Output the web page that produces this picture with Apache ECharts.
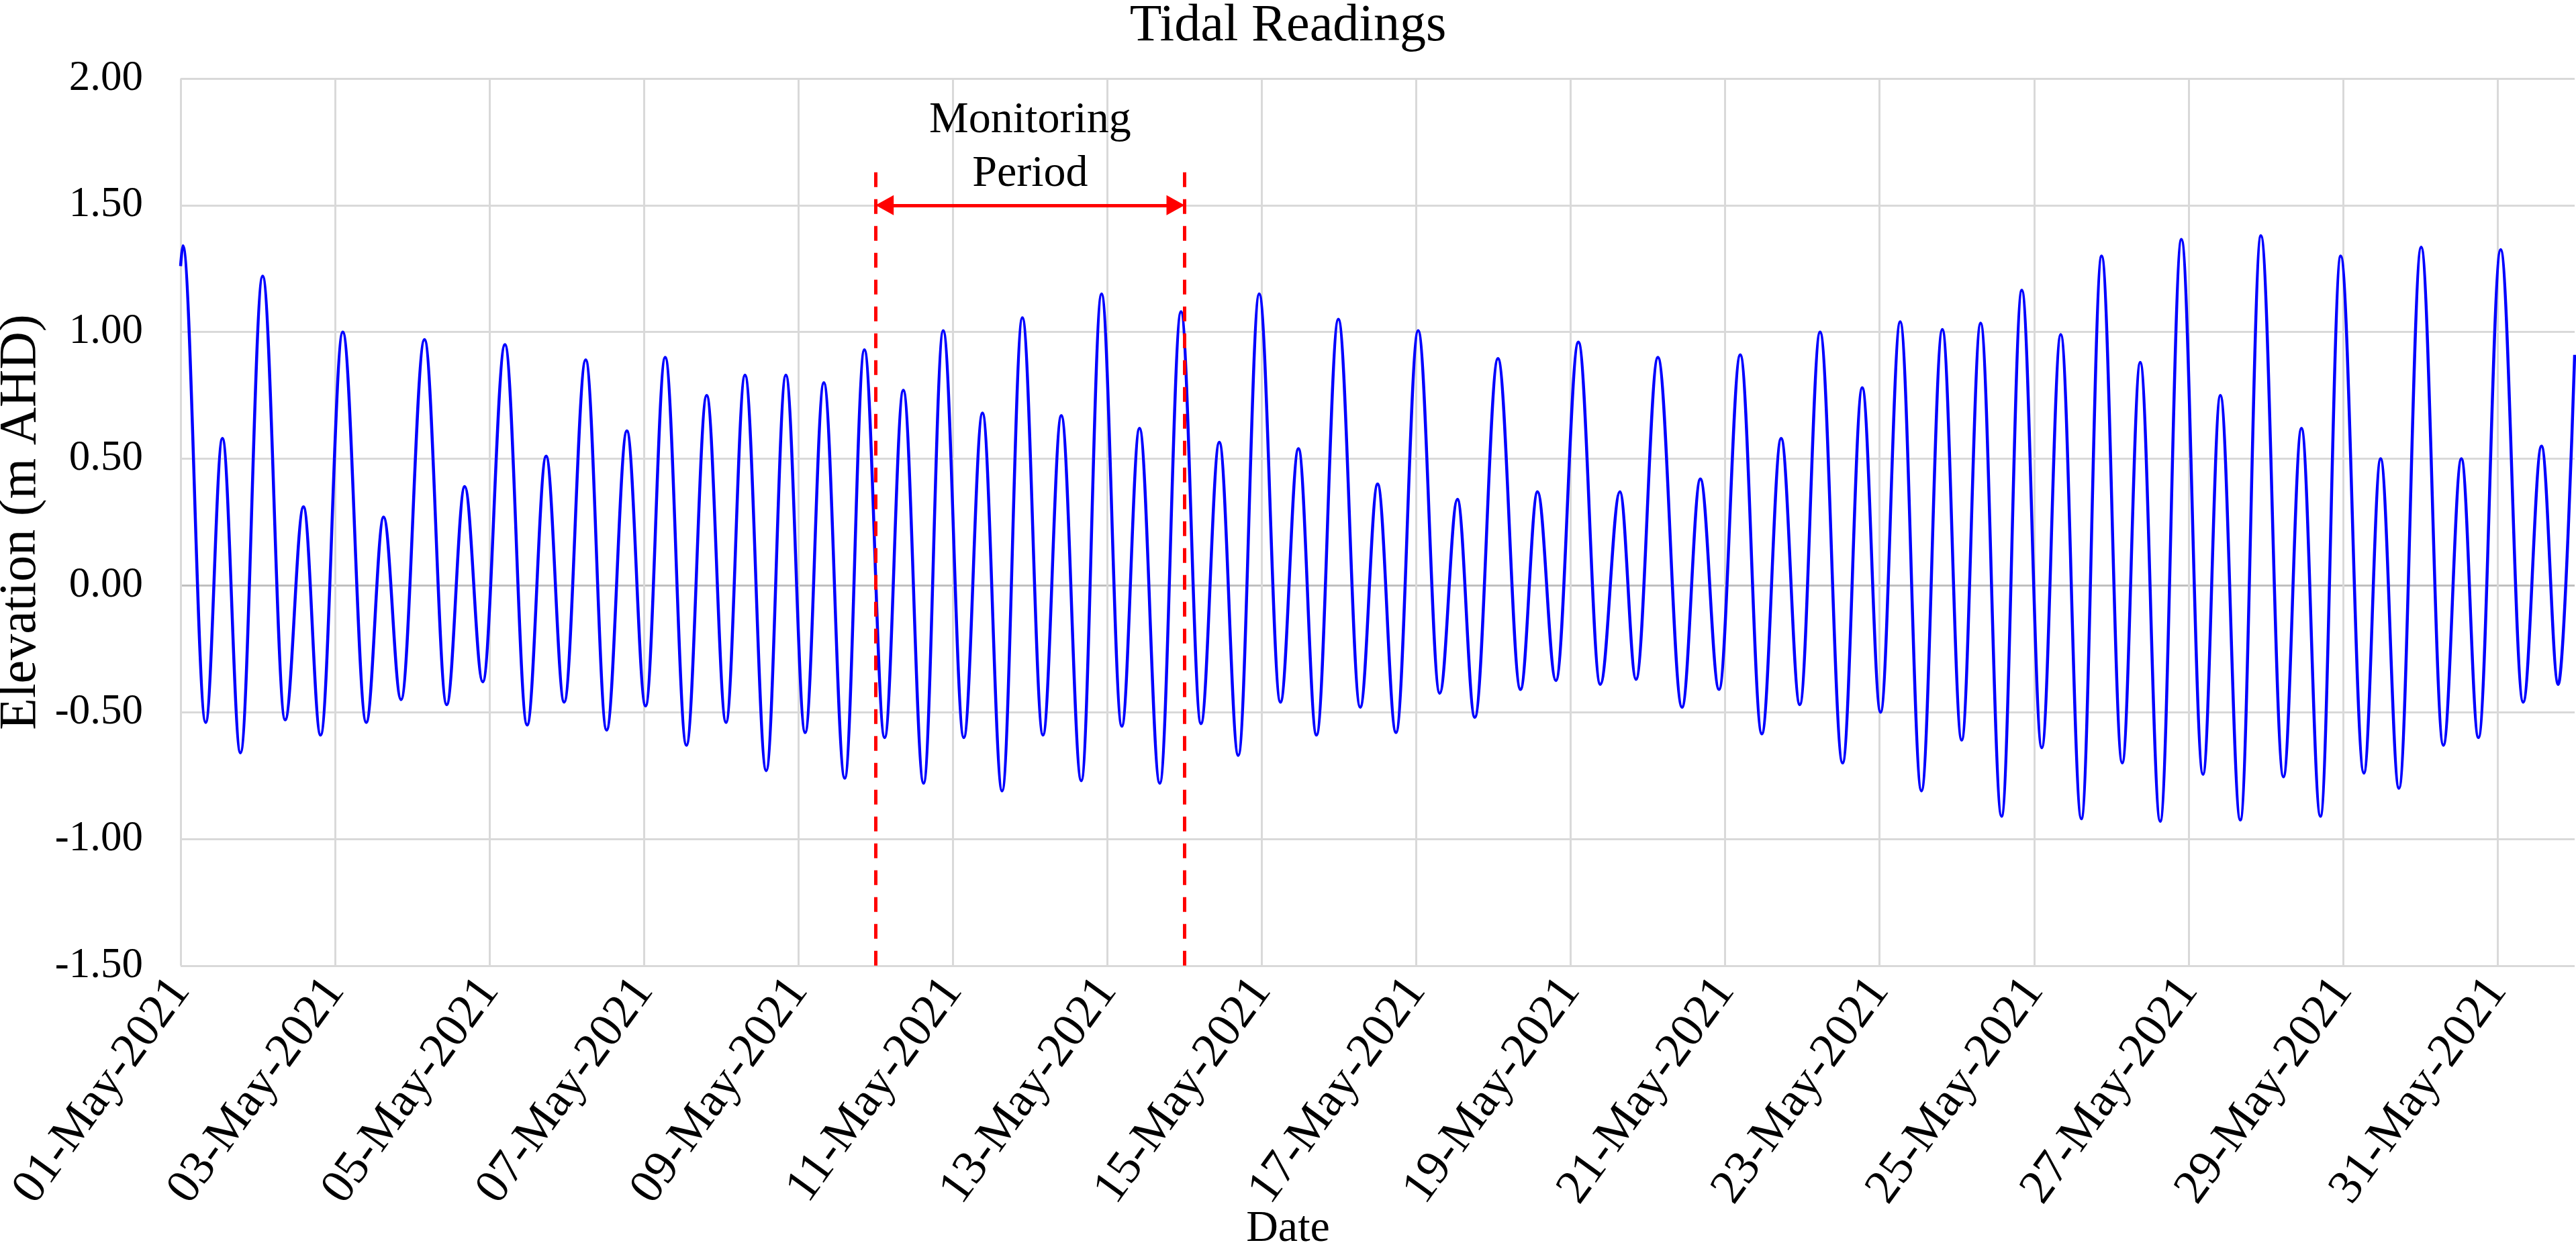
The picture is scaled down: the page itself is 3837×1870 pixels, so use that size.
<!DOCTYPE html>
<html>
<head>
    <meta charset="utf-8">
    <script src="https://cdn.jsdelivr.net/npm/echarts@6.0.0/dist/echarts.min.js"></script>
</head>
<body style="margin: 0; background: #fff">
<div id="container" style="width: 3837px; height: 1870px"></div>
<script type="text/javascript">
    // high / low water times, hours after 01-May-2021 00:00
    var hours = [
        0.0, 0.7, 7.8, 13.0, 18.6, 25.5, 32.5, 38.2, 43.5, 50.4,
        57.7, 63.1, 68.5, 75.8, 82.7, 88.3, 93.9, 100.8, 107.7, 113.6,
        119.2, 125.9, 132.4, 138.7, 144.5, 150.6, 157.2, 163.5, 169.5, 175.4,
        182.0, 188.1, 194.1, 199.9, 206.4, 212.5, 218.8, 224.6, 230.9, 237.0,
        243.4, 249.2, 255.3, 261.6, 268.0, 273.7, 279.9, 286.2, 292.5, 298.0,
        304.3, 310.9, 317.1, 322.8, 328.7, 335.2, 341.8, 347.4, 353.0, 359.8,
        366.6, 372.0, 377.7, 384.6, 391.3, 396.8, 402.2, 409.4, 416.4, 421.7,
        427.4, 434.4, 441.2, 447.3, 452.3, 459.1, 466.6, 472.3, 478.1, 484.7,
        491.4, 497.4, 503.2, 509.5, 516.5, 522.6, 528.3, 534.4, 541.0, 547.5,
        553.5, 559.4, 565.9, 572.2, 578.4, 584.3, 590.7, 597.0, 603.4, 609.0,
        615.2, 621.8, 628.5, 633.9, 640.1, 646.5, 653.5, 659.1, 665.0, 671.3,
        678.5, 683.7, 689.4, 696.3, 703.2, 708.8, 714.1, 721.0, 728.0, 733.7,
        738.9, 744.0
    ];
    // water level (m AHD) at those times
    var levels = [
        1.26, 1.34, -0.54, 0.58, -0.66, 1.22, -0.53, 0.31, -0.59, 1.00,
        -0.54, 0.27, -0.45, 0.97, -0.47, 0.39, -0.38, 0.95, -0.55, 0.51,
        -0.46, 0.89, -0.57, 0.61, -0.475, 0.90, -0.63, 0.75, -0.54, 0.83,
        -0.73, 0.83, -0.58, 0.80, -0.76, 0.93, -0.60, 0.77, -0.78, 1.005,
        -0.60, 0.68, -0.81, 1.056, -0.59, 0.67, -0.77, 1.15, -0.555, 0.62,
        -0.78, 1.08, -0.545, 0.565, -0.67, 1.15, -0.46, 0.54, -0.59, 1.05,
        -0.48, 0.40, -0.58, 1.005, -0.425, 0.34, -0.52, 0.895, -0.41, 0.37,
        -0.375, 0.96, -0.39, 0.37, -0.37, 0.90, -0.48, 0.42, -0.41, 0.91,
        -0.585, 0.58, -0.47, 1.00, -0.70, 0.78, -0.50, 1.04, -0.81, 1.01,
        -0.61, 1.035, -0.91, 1.165, -0.64, 0.99, -0.92, 1.30, -0.70, 0.88,
        -0.93, 1.365, -0.745, 0.75, -0.925, 1.38, -0.755, 0.62, -0.91, 1.30,
        -0.74, 0.50, -0.80, 1.335, -0.63, 0.50, -0.60, 1.325, -0.46, 0.55,
        -0.39, 0.91
    ];
    var dateLabels = [
        '01-May-2021', '03-May-2021', '05-May-2021', '07-May-2021',
        '09-May-2021', '11-May-2021', '13-May-2021', '15-May-2021',
        '17-May-2021', '19-May-2021', '21-May-2021', '23-May-2021',
        '25-May-2021', '27-May-2021', '29-May-2021', '31-May-2021'
    ];
    var elevTicks = [-1.5, -1.0, -0.5, 0.0, 0.5, 1.0, 1.5, 2.0];
    // monitoring period 10-May 00:00 to 14-May 00:00 (hours)
    var monitorStart = 216;
    var monitorEnd = 312;

    var font = 'Liberation Serif';
    var tide = [];
    for (var i = 0; i < hours.length; i++) {
        tide.push([hours[i], levels[i]]);
    }
    // zero line a bit darker, like the category axis line in Excel
    var gridColors = elevTicks.map(function (v) {
        return v === 0 ? '#bfbfbf' : '#d9d9d9';
    });

    var myChart = echarts.init(document.getElementById('container'));
    var option = {
        animation: false,
        backgroundColor: '#ffffff',
        title: [
            {
                text: 'Tidal Readings',
                left: 'center',
                top: -4,
                textStyle: {fontFamily: font, fontSize: 78, fontWeight: 'normal', color: '#000'}
            },
            {
                text: 'Date',
                left: 'center',
                top: 1794,
                textStyle: {fontFamily: font, fontSize: 66, fontWeight: 'normal', color: '#000'}
            }
        ],
        grid: {left: 269, right: 2, top: 117, bottom: 431, outerBoundsMode: 'none'},
        xAxis: {
            type: 'value',
            min: 0,
            max: 744,
            interval: 48,
            axisLine: {show: false},
            axisTick: {show: false},
            splitLine: {show: true, showMaxLine: false, lineStyle: {color: '#d9d9d9', width: 3}},
            axisLabel: {
                rotate: 54,
                margin: 26,
                showMaxLabel: false,
                fontFamily: font,
                fontSize: 72,
                color: '#000',
                formatter: function (v) {
                    return dateLabels[Math.round(v / 48)] || '';
                }
            }
        },
        yAxis: {
            type: 'value',
            min: -1.5,
            max: 2,
            interval: 0.5,
            name: 'Elevation (m AHD)',
            nameLocation: 'middle',
            nameGap: 176,
            nameTextStyle: {fontFamily: font, fontSize: 78, color: '#000'},
            axisLine: {show: false},
            axisTick: {show: false},
            splitLine: {lineStyle: {color: gridColors, width: 3}},
            axisLabel: {
                margin: 56,
                fontFamily: font,
                fontSize: 63,
                color: '#000',
                formatter: function (v) {
                    return v.toFixed(2);
                }
            }
        },
        series: [
            {
                name: 'Tide',
                type: 'line',
                data: tide,
                showSymbol: false,
                smooth: 0.36,
                smoothMonotone: 'x',
                lineStyle: {color: '#0000ff', width: 4.5},
                markLine: {
                    silent: true,
                    symbol: ['none', 'none'],
                    label: {show: false},
                    data: [
                        [
                            {coord: [monitorStart, 1.63], lineStyle: {color: '#ff0000', width: 5, type: [22, 18]}},
                            {coord: [monitorStart, -1.5]}
                        ],
                        [
                            {coord: [monitorEnd, 1.63], lineStyle: {color: '#ff0000', width: 5, type: [22, 18]}},
                            {coord: [monitorEnd, -1.5]}
                        ],
                        [
                            {
                                coord: [monitorStart + 2.8, 1.5],
                                symbol: 'triangle',
                                symbolSize: [30, 27],
                                lineStyle: {color: '#ff0000', width: 5, type: 'solid'},
                                label: {
                                    show: true,
                                    position: 'middle',
                                    formatter: 'Monitoring\nPeriod',
                                    fontFamily: font,
                                    fontSize: 66,
                                    lineHeight: 80,
                                    color: '#000',
                                    distance: 6
                                }
                            },
                            {coord: [monitorEnd - 2.8, 1.5], symbol: 'triangle', symbolSize: [30, 27]}
                        ]
                    ]
                }
            }
        ]
    };
    myChart.setOption(option);
</script>
</body>
</html>
